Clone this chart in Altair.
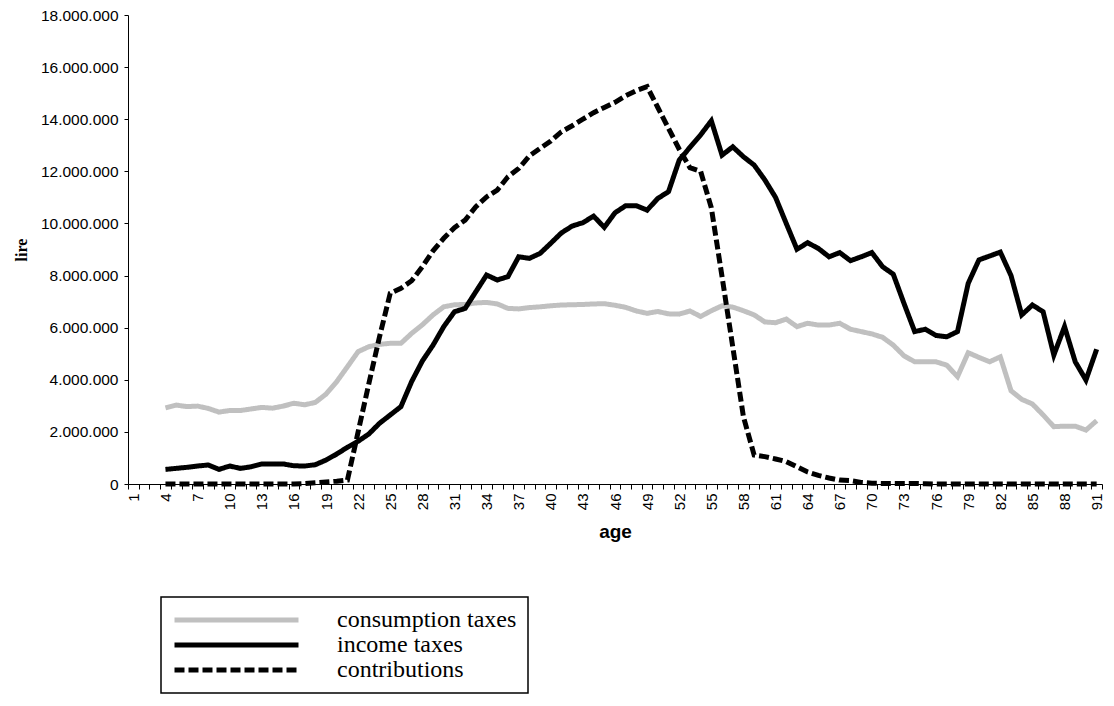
import altair as alt
import pandas as pd

# ---- data (values in millions of lire) ----
ages = list(range(4, 92))
x_categories = list(range(1, 92))
series_names = ["consumption taxes", "income taxes", "contributions"]
y_ticks = [0, 2000000, 4000000, 6000000, 8000000, 10000000,
           12000000, 14000000, 16000000, 18000000]

consumption = [
    2.92, 3.03, 2.97, 2.99, 2.90, 2.76, 2.82, 2.82, 2.88, 2.94,   # 4-13
    2.91, 2.99, 3.10, 3.04, 3.13, 3.45, 3.93, 4.50, 5.08, 5.27,   # 14-23
    5.36, 5.40, 5.40, 5.78, 6.11, 6.49, 6.80, 6.88, 6.89, 6.95,   # 24-33
    6.97, 6.91, 6.74, 6.72, 6.77, 6.80, 6.84, 6.87, 6.88, 6.89,   # 34-43
    6.91, 6.92, 6.86, 6.78, 6.64, 6.55, 6.62, 6.53, 6.52, 6.64,   # 44-53
    6.43, 6.65, 6.84, 6.79, 6.65, 6.49, 6.22, 6.19, 6.33, 6.04,   # 54-63
    6.17, 6.10, 6.10, 6.17, 5.94, 5.85, 5.76, 5.63, 5.33, 4.92,   # 64-73
    4.69, 4.69, 4.69, 4.56, 4.12, 5.04, 4.86, 4.69, 4.88, 3.58,   # 74-83
    3.25, 3.07, 2.65, 2.20, 2.22, 2.22, 2.07, 2.43,               # 84-91
]
income = [
    0.56, 0.60, 0.64, 0.69, 0.73, 0.56, 0.69, 0.60, 0.66, 0.77,   # 4-13
    0.77, 0.77, 0.70, 0.69, 0.74, 0.92, 1.15, 1.41, 1.64, 1.92,   # 14-23
    2.33, 2.65, 2.97, 3.93, 4.72, 5.33, 6.04, 6.61, 6.74, 7.38,   # 24-33
    8.02, 7.83, 7.96, 8.72, 8.66, 8.85, 9.24, 9.64, 9.90, 10.03,  # 34-43
    10.28, 9.85, 10.41, 10.68, 10.68, 10.51, 10.96, 11.22, 12.43, 12.92,  # 44-53
    13.40, 13.94, 12.62, 12.94, 12.56, 12.24, 11.67, 11.00, 10.00, 9.01,  # 54-63
    9.26, 9.04, 8.72, 8.88, 8.57, 8.72, 8.88, 8.34, 8.05, 6.93,   # 64-73
    5.85, 5.94, 5.70, 5.65, 5.85, 7.70, 8.60, 8.75, 8.90, 8.00,   # 74-83
    6.49, 6.87, 6.61, 4.95, 6.04, 4.69, 3.99, 5.17,               # 84-91
]
contributions = [
    0.00, 0.00, 0.00, 0.00, 0.00, 0.00, 0.00, 0.00, 0.00, 0.00,   # 4-13
    0.00, 0.00, 0.00, 0.02, 0.05, 0.08, 0.11, 0.15, 2.00, 3.85,   # 14-23
    5.65, 7.32, 7.51, 7.80, 8.34, 8.95, 9.43, 9.84, 10.13, 10.64, # 24-33
    11.02, 11.28, 11.79, 12.11, 12.59, 12.88, 13.16, 13.52, 13.75, 14.00,  # 34-43
    14.25, 14.45, 14.65, 14.90, 15.10, 15.25, 14.45, 13.65, 12.85, 12.14,  # 44-53
    12.00, 10.60, 7.96, 5.27, 2.58, 1.11, 1.05, 0.96, 0.86, 0.66, # 54-63
    0.46, 0.33, 0.23, 0.15, 0.13, 0.06, 0.03, 0.02, 0.02, 0.02,   # 64-73
    0.02, 0.01, 0.00, 0.00, 0.00, 0.00, 0.00, 0.00, 0.00, 0.00,   # 74-83
    0.00, 0.00, 0.00, 0.00, 0.00, 0.00, 0.00, 0.00,               # 84-91
]

rows = []
for name, vals in zip(series_names, [consumption, income, contributions]):
    for a, v in zip(ages, vals):
        rows.append({"age": a, "value": v * 1000000, "series": name})
df = pd.DataFrame(rows)

legend = alt.Legend(
    title=None, orient="none", legendX=33, legendY=582, direction="vertical",
    symbolType="stroke", symbolSize=124 * 124, symbolStrokeWidth=5,
    clipHeight=24, rowPadding=1, padding=11,
    labelFont="Liberation Serif", labelFontSize=24, labelColor="black",
    labelOffset=36, labelLimit=400,
    strokeColor="black", fillColor="white",
)

y_label_expr = ("datum.value == 0 ? '0' : format(floor(datum.value / 1000000), 'd') + '.' + "
                "format(floor(datum.value / 1000) % 1000, '03d') + '.' + format(datum.value % 1000, '03d')")

chart = alt.Chart(df).mark_line(strokeWidth=5, strokeJoin="miter", strokeCap="butt").encode(
    x=alt.X(
        "age:O",
        bandPosition=0.5,
        scale=alt.Scale(type="band", domain=x_categories, paddingInner=0, paddingOuter=0),
        axis=alt.Axis(
            title="age", tickBand="extent", labelAngle=270, labelOverlap=False,
            labelExpr="(datum.value - 1) % 3 == 0 ? datum.label : ''",
            labelFont="Liberation Sans", labelFontSize=15, labelColor="black",
            labelPadding=4, tickSize=5, tickColor="black", domainColor="black",
            titleFont="Liberation Sans", titleFontSize=19, titleFontWeight="bold",
            titleColor="black", titlePadding=13, grid=False,
        ),
    ),
    y=alt.Y(
        "value:Q",
        scale=alt.Scale(domain=[0, 18000000], nice=False, zero=True),
        axis=alt.Axis(
            title="lire", values=y_ticks, labelExpr=y_label_expr,
            labelFont="Liberation Sans", labelFontSize=15.5, labelColor="black",
            labelPadding=6, tickSize=4, tickColor="black", domainColor="black",
            titleFont="Liberation Serif", titleFontSize=16, titleFontWeight="bold",
            titleColor="black", titlePadding=11, grid=False,
        ),
    ),
    color=alt.Color("series:N", scale=alt.Scale(domain=series_names,
                    range=["#c0c0c0", "#000000", "#000000"]), legend=legend),
    strokeDash=alt.StrokeDash("series:N", scale=alt.Scale(domain=series_names,
                    range=[[1, 0], [1, 0], [10, 4]]), legend=legend),
    order=alt.Order("age:Q"),
).properties(
    width=974, height=469,
    padding={"left": 120, "top": 7, "right": 4, "bottom": 210},
    autosize=alt.AutoSizeParams(type="none"),
    background="white",
).configure_view(stroke=None).configure_legend(strokeWidth=1.5)

chart.save("out.html", embed_options={"renderer": "svg", "actions": False})
